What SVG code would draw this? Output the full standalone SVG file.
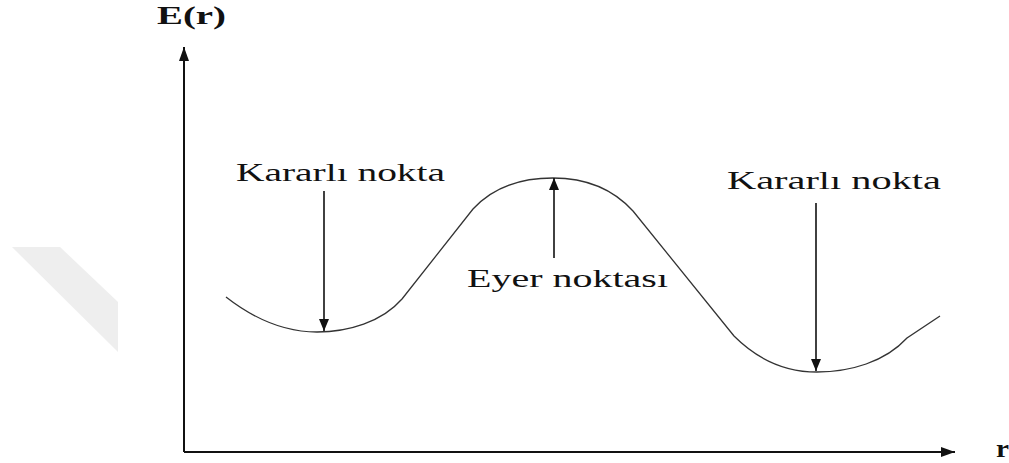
<svg xmlns="http://www.w3.org/2000/svg" width="1009" height="463" viewBox="0 0 1009 463">
<style>
.lbl{font-family:"Liberation Serif","Times New Roman",serif;font-size:26px;fill:#111}
.ax{font-family:"Liberation Serif","Times New Roman",serif;font-size:25px;font-weight:bold;fill:#111}
.axis{stroke:#111;stroke-width:2;fill:none}
.arr{stroke:#111;stroke-width:1.6;fill:none}
.curve{stroke:#333;stroke-width:1.3;fill:none}
</style>
<defs>
<marker id="ah" viewBox="0 0 12 10" refX="12" refY="5" markerWidth="12" markerHeight="10" markerUnits="userSpaceOnUse" orient="auto">
<path d="M0,0 L12,5 L0,10 Z" fill="#111"/>
</marker>
<marker id="ahB" viewBox="0 0 14 10" refX="14" refY="5" markerWidth="14" markerHeight="10" markerUnits="userSpaceOnUse" orient="auto">
<path d="M0,0 L14,5 L0,10 Z" fill="#111"/>
</marker>
</defs>
<rect width="1009" height="463" fill="#fff"/>
<polygon points="12,247 60,247 118,302 118,352" fill="#eeeeee"/>
<g id="axes">
<path class="axis" d="M184,452 L184,47" marker-end="url(#ahB)"/>
<path class="axis" d="M184,452 L955,452" marker-end="url(#ahB)"/>
<text class="ax" x="157" y="24" textLength="69" lengthAdjust="spacingAndGlyphs">E(r)</text>
<text class="ax" x="996" y="457" textLength="13" lengthAdjust="spacingAndGlyphs">r</text>
</g>
<g id="curve">
<path class="curve" d="M226,297 C258,322 288,332 317,332 C348,332 382,322 402,299 L473,209 C495,185 525,178 553,178 C583,178 612,188 633,211 L734,336 C760,362 790,372 817,372 C850,372 885,362 907,338 L940,316"/>
</g>
<g id="node-stable-left">
<text class="lbl" x="236" y="181" textLength="209" lengthAdjust="spacingAndGlyphs">Kararlı nokta</text>
</g>
<g id="node-saddle">
<text class="lbl" x="467" y="287" textLength="201" lengthAdjust="spacingAndGlyphs">Eyer noktası</text>
</g>
<g id="node-stable-right">
<text class="lbl" x="727" y="189" textLength="214" lengthAdjust="spacingAndGlyphs">Kararlı nokta</text>
</g>
<g id="connectors">
<path class="arr" d="M324,191 L324,331" marker-end="url(#ah)"/>
<path class="arr" d="M554,258 L554,178" marker-end="url(#ah)"/>
<path class="arr" d="M816,203 L816,371" marker-end="url(#ah)"/>
</g>
</svg>
